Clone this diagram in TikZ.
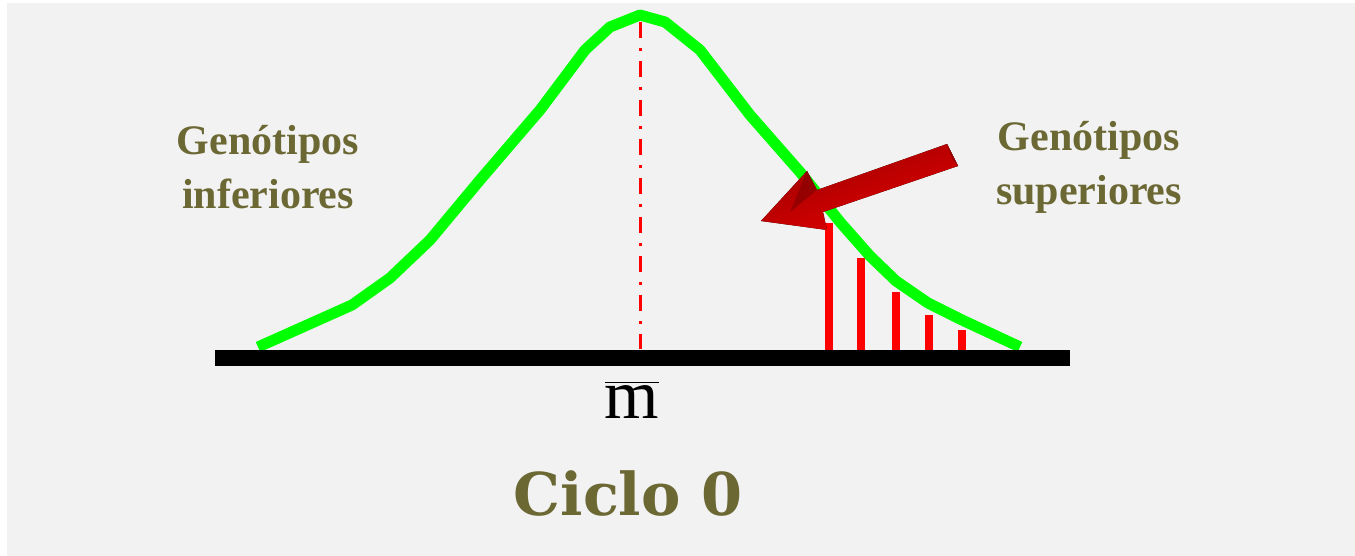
\documentclass[tikz,border=0pt]{standalone}
\usepackage{fontspec}
\setmainfont{Liberation Serif}
\newfontfamily\slabfont{DejaVu Serif}
\newfontfamily\lmfont{Latin Modern Roman}
\definecolor{bg}{RGB}{242,242,242}
\definecolor{olive}{RGB}{107,104,52}
\definecolor{curvegreen}{RGB}{0,255,0}
\tikzset{
  label/.style={text=olive, font=\bfseries\fontsize{21}{27}\selectfont, align=center, inner sep=0pt},
  redbar/.style={draw=red, line width=4pt},
}
\begin{document}
\begin{tikzpicture}[x=0.5pt,y=-0.5pt]
\useasboundingbox (0,0) rectangle (1355,556);
\fill[white] (0,0) rectangle (1355,556);
\fill[bg] (7,3) rectangle (1355,556);
% red verticals
\foreach \x/\t in {829/223,861/258,896/292,929/315,962/330}
  \draw[redbar] (\x,\t) -- (\x,351);
% center dash-dot
\draw[red, line width=1.5pt, dash pattern=on 8pt off 5pt on 1.5pt off 5pt] (640,22) -- (640,349);
% green curve
\draw[curvegreen, line width=5.5pt, line join=round] (258,347) -- (352,305) -- (390,278) -- (430,240) -- (480,180) -- (540,110) -- (585,50) -- (610,27) -- (640,15) -- (665,22) -- (700,50) -- (750,115) -- (800,172) -- (840,222) -- (870,256) -- (896,281) -- (928,303) -- (962,320) -- (1020,347);
% baseline
\fill[black] (215,350) rectangle (1070,366);
% arrow
\fill[top color=red!60!black, bottom color=red!90!black, shading angle=19]
  (947,144) -- (817,190) -- (807,171) -- (761,221) -- (827,230) -- (823,212) -- (958,166) -- cycle;
\fill[red!55!black] (947,144) -- (958,166) -- (952,158) -- cycle;
\fill[red!50!black, opacity=0.6] (807,171) -- (817,190) -- (790,212) -- cycle;
% texts
\node[label] (inf) at (268,167) {Genótipos\\inferiores};
\node[label] (sup) at (1089,167) {Genótipos\\superiores};
\node[inner sep=0pt, font=\lmfont\fontsize{35}{35}\selectfont] (m) at (632,400) {$\overline{\mathrm{m}}$};
\node[inner sep=0pt, text=olive, font=\slabfont\bfseries\fontsize{29.5}{29.5}\selectfont] (ciclo) at (628,494) {Ciclo 0};
\end{tikzpicture}
\end{document}
